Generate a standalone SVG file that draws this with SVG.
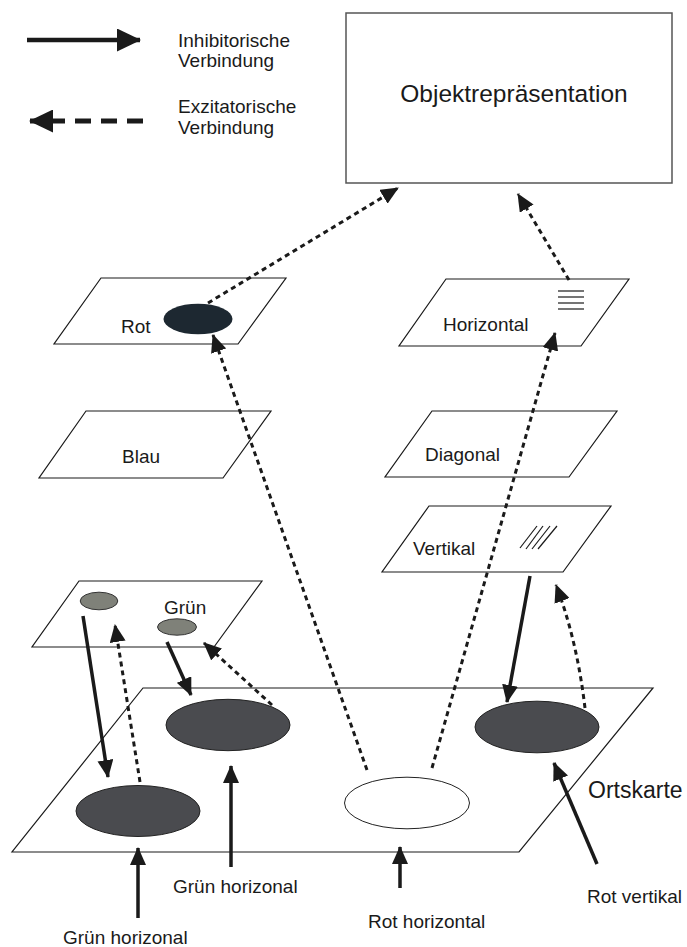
<svg xmlns="http://www.w3.org/2000/svg" width="687" height="947" viewBox="0 0 687 947">
<style>
text{font-family:"Liberation Sans",Arial,sans-serif;fill:#1a1a1a;font-size:19px}
text.big{font-size:24.5px}
text.ort{font-size:23px}
.plane{fill:#fff;stroke:#1a1a1a;stroke-width:1.2}
.dark{fill:#4a4b4f;stroke:#222;stroke-width:1}
.green{fill:#7f8179;stroke:#333;stroke-width:1}
.exc{fill:none;stroke:#1a1a1a;stroke-width:3;stroke-dasharray:5 4;marker-end:url(#ah)}
.inh{fill:none;stroke:#1a1a1a;stroke-width:3.5;marker-end:url(#ah)}
.hatch{stroke:#1a1a1a;stroke-width:1.2}
</style>
<defs>
<marker id="ah" markerWidth="18" markerHeight="16" refX="17" refY="8" orient="auto" markerUnits="userSpaceOnUse">
<path d="M0,0 L18,8 L0,16 z" fill="#1a1a1a"/>
</marker>
<marker id="ahL" markerWidth="24" markerHeight="23" refX="23" refY="11.5" orient="auto" markerUnits="userSpaceOnUse">
<path d="M0,0 L24,11.5 L0,23 z" fill="#1a1a1a"/>
</marker>
</defs>
<rect width="687" height="947" fill="#fff"/>

<g id="legend">
<line x1="27" y1="40" x2="140" y2="40" stroke="#1a1a1a" stroke-width="4.5" marker-end="url(#ahL)"/>
<text x="178" y="47">Inhibitorische</text>
<text x="178" y="67">Verbindung</text>
<line x1="143" y1="121" x2="30" y2="121" stroke="#1a1a1a" stroke-width="5" stroke-dasharray="16 10" marker-end="url(#ahL)"/>
<text x="178" y="113">Exzitatorische</text>
<text x="178" y="134">Verbindung</text>
</g>

<g id="objekt">
<rect x="346" y="13" width="326" height="170" fill="#fff" stroke="#555" stroke-width="1.5"/>
<text class="big" x="514" y="102" text-anchor="middle">Objektrepräsentation</text>
</g>

<g id="rot">
<polygon class="plane" points="101,278 286,278 238,344 54,344"/>
<ellipse cx="198" cy="319" rx="34.5" ry="15.3" fill="#1d2831"/>
<text x="121" y="333">Rot</text>
</g>

<g id="horizontal">
<polygon class="plane" points="446,279 629,279 581,346 399,346"/>
<line class="hatch" x1="558" y1="291" x2="584" y2="291"/>
<line class="hatch" x1="558" y1="297" x2="584" y2="297"/>
<line class="hatch" x1="558" y1="303" x2="584" y2="303"/>
<line class="hatch" x1="558" y1="309" x2="584" y2="309"/>
<text x="443" y="331">Horizontal</text>
</g>

<g id="blau">
<polygon class="plane" points="86,411 271,411 223,478 39,478"/>
<text x="122" y="463">Blau</text>
</g>

<g id="diagonal">
<polygon class="plane" points="432,411 617,411 569,477 385,477"/>
<text x="425" y="461">Diagonal</text>
</g>

<g id="vertikal">
<polygon class="plane" points="429,506 611,506 563,572 382,572"/>
<line class="hatch" x1="520" y1="548" x2="537" y2="526"/>
<line class="hatch" x1="526" y1="549" x2="543" y2="526"/>
<line class="hatch" x1="532" y1="549" x2="550" y2="526"/>
<line class="hatch" x1="538" y1="549" x2="557" y2="526"/>
<text x="413" y="555">Vertikal</text>
</g>

<g id="gruen">
<polygon class="plane" points="79,581 262,581 214,647 32,647"/>
<ellipse class="green" cx="99" cy="601" rx="18.8" ry="8.8"/>
<ellipse class="green" cx="177" cy="627" rx="19.5" ry="8.2"/>
<text x="164" y="614">Grün</text>
</g>

<g id="ortskarte">
<polygon class="plane" points="143,688 653,688 519,852 12,852"/>
<ellipse class="dark" cx="138" cy="811" rx="62" ry="25.5"/>
<ellipse class="dark" cx="228" cy="725" rx="62" ry="25.7"/>
<ellipse cx="407" cy="803" rx="62.5" ry="25.8" fill="#fff" stroke="#222" stroke-width="1"/>
<ellipse class="dark" cx="537" cy="727" rx="62" ry="25.8"/>
<text class="ort" x="588" y="798">Ortskarte</text>
</g>

<g id="labels">
<text x="173" y="893">Grün horizonal</text>
<text x="63" y="944">Grün horizonal</text>
<text x="368" y="928">Rot horizontal</text>
<text x="587" y="903">Rot vertikal</text>
</g>

<g id="connectors">
<line class="exc" x1="208" y1="303" x2="398" y2="188"/>
<line class="exc" x1="569" y1="280" x2="518" y2="194"/>
<line class="exc" x1="367" y1="770" x2="213" y2="335"/>
<line class="exc" x1="432" y1="768" x2="555" y2="333"/>
<path class="exc" d="M585,708 Q577,640 556,585"/>
<line class="exc" x1="272" y1="705" x2="204" y2="643"/>
<line class="exc" x1="140" y1="782" x2="115" y2="625"/>
<line class="inh" x1="83" y1="616" x2="108" y2="777"/>
<line class="inh" x1="167" y1="642" x2="191" y2="695"/>
<line class="inh" x1="530" y1="576" x2="507" y2="702"/>
<line class="inh" x1="138" y1="918" x2="138" y2="848"/>
<line class="inh" x1="231" y1="867" x2="231" y2="766"/>
<line class="inh" x1="400" y1="888" x2="400" y2="847"/>
<line class="inh" x1="597" y1="864" x2="554" y2="763"/>
</g>
</svg>
